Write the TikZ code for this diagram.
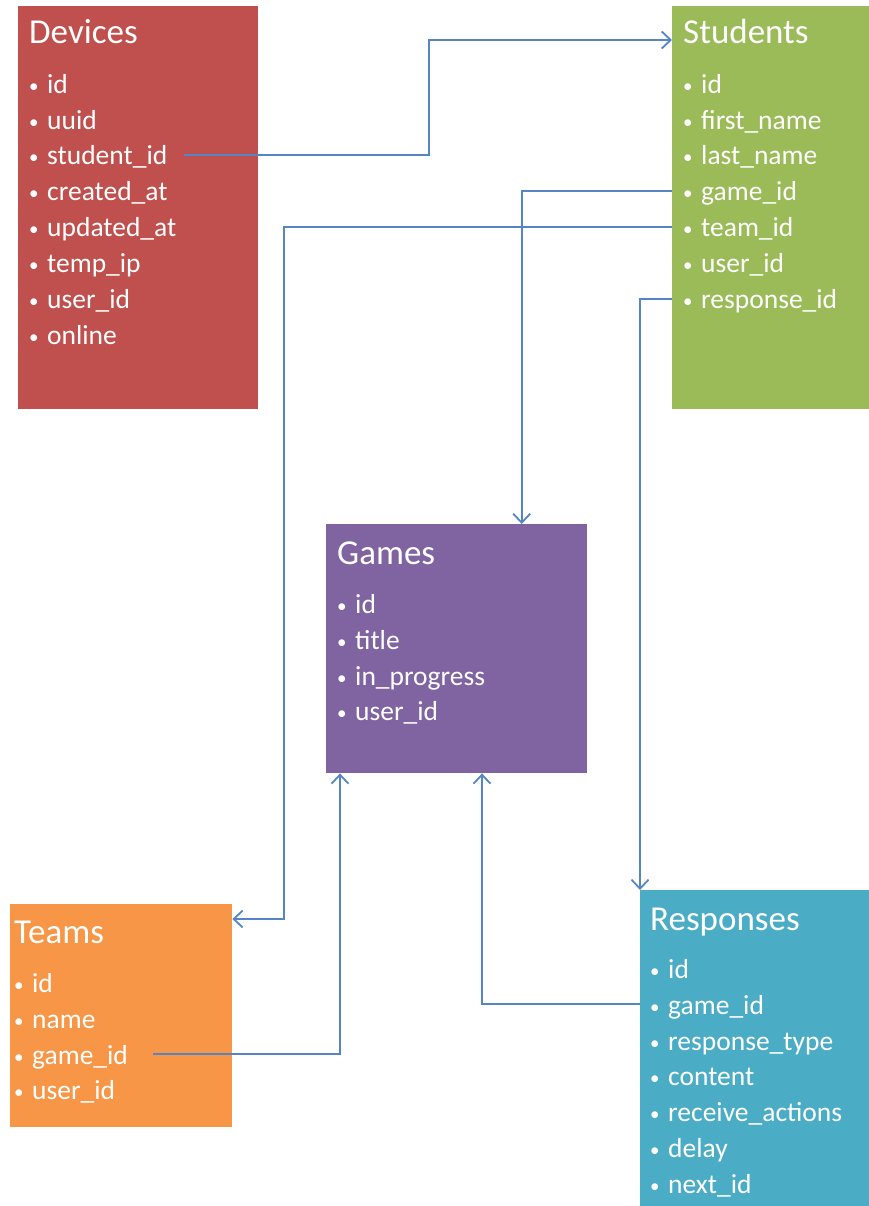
\documentclass[tikz,border=0pt]{standalone}
\usepackage{fontspec}
\setmainfont{Carlito}
\usetikzlibrary{positioning, arrows.meta}

\definecolor{devred}{HTML}{C0504D}
\definecolor{stugreen}{HTML}{9BBB59}
\definecolor{gampurple}{HTML}{8064A2}
\definecolor{teaorange}{HTML}{F79646}
\definecolor{resblue}{HTML}{4BACC6}
\definecolor{linkblue}{HTML}{5585C4}

\newcommand{\bul}{\makebox[18pt][l]{\fontsize{19}{19}\selectfont\raisebox{1pt}{\textbullet}}}

\begin{document}
\begin{tikzpicture}[x=1pt, y=-1pt, node distance=15.5pt,
    tbl/.style={fill=#1, anchor=north west, inner sep=0pt},
    tabtitle/.style={inner sep=0pt, text=white, font=\fontsize{35}{35}\selectfont},
    field/.style={inner sep=0pt, text=white, text height=20pt, text depth=0pt, font=\fontsize{27.5}{27.5}\selectfont},
    link/.style={draw=linkblue, line width=1.8pt, -{Straight Barb[length=9pt,width=17pt]}}]
    \useasboundingbox (0,0) rectangle (869,1206);

    % tables
    \node[tbl=devred,    minimum width=240pt, minimum height=403pt] (dev) at (18,6)    {};
    \node[tbl=stugreen,  minimum width=197pt, minimum height=403pt] (stu) at (672,6)   {};
    \node[tbl=gampurple, minimum width=261pt, minimum height=249pt] (gam) at (326,524)  {};
    \node[tbl=teaorange, minimum width=222pt, minimum height=223pt] (tea) at (10,904)  {};
    \node[tbl=resblue,   minimum width=229pt, minimum height=316pt] (res) at (640,890) {};

    % Devices
    \node[tabtitle, below right=38pt and 11pt of dev.north west, anchor=base west] (dev title) {Devices};
    \node[field, below=29pt of dev title.base west, anchor=north west] (dev 1) {\bul id};
    \node[field, below=of dev 1.south west, anchor=north west] (dev 2) {\bul uuid};
    \node[field, below=of dev 2.south west, anchor=north west] (dev 3) {\bul student\_id};
    \node[field, below=of dev 3.south west, anchor=north west] (dev 4) {\bul created\_at};
    \node[field, below=of dev 4.south west, anchor=north west] (dev 5) {\bul updated\_at};
    \node[field, below=of dev 5.south west, anchor=north west] (dev 6) {\bul temp\_ip};
    \node[field, below=of dev 6.south west, anchor=north west] (dev 7) {\bul user\_id};
    \node[field, below=of dev 7.south west, anchor=north west] (dev 8) {\bul online};

    % Students
    \node[tabtitle, below right=38pt and 11pt of stu.north west, anchor=base west] (stu title) {Students};
    \node[field, below=29pt of stu title.base west, anchor=north west] (stu 1) {\bul id};
    \node[field, below=of stu 1.south west, anchor=north west] (stu 2) {\bul first\_name};
    \node[field, below=of stu 2.south west, anchor=north west] (stu 3) {\bul last\_name};
    \node[field, below=of stu 3.south west, anchor=north west] (stu 4) {\bul game\_id};
    \node[field, below=of stu 4.south west, anchor=north west] (stu 5) {\bul team\_id};
    \node[field, below=of stu 5.south west, anchor=north west] (stu 6) {\bul user\_id};
    \node[field, below=of stu 6.south west, anchor=north west] (stu 7) {\bul response\_id};

    % Games
    \node[tabtitle, below right=40pt and 11pt of gam.north west, anchor=base west] (gam title) {Games};
    \node[field, below=29pt of gam title.base west, anchor=north west] (gam 1) {\bul id};
    \node[field, below=of gam 1.south west, anchor=north west] (gam 2) {\bul title};
    \node[field, below=of gam 2.south west, anchor=north west] (gam 3) {\bul in\_progress};
    \node[field, below=of gam 3.south west, anchor=north west] (gam 4) {\bul user\_id};

    % Teams
    \node[tabtitle, below right=39pt and 4pt of tea.north west, anchor=base west] (tea title) {Teams};
    \node[field, below=29pt of tea title.base west, anchor=north west] (tea 1) {\bul id};
    \node[field, below=of tea 1.south west, anchor=north west] (tea 2) {\bul name};
    \node[field, below=of tea 2.south west, anchor=north west] (tea 3) {\bul game\_id};
    \node[field, below=of tea 3.south west, anchor=north west] (tea 4) {\bul user\_id};

    % Responses
    \node[tabtitle, below right=40pt and 10pt of res.north west, anchor=base west] (res title) {Responses};
    \node[field, below=28pt of res title.base west, anchor=north west] (res 1) {\bul id};
    \node[field, below=of res 1.south west, anchor=north west] (res 2) {\bul game\_id};
    \node[field, below=of res 2.south west, anchor=north west] (res 3) {\bul response\_type};
    \node[field, below=of res 3.south west, anchor=north west] (res 4) {\bul content};
    \node[field, below=of res 4.south west, anchor=north west] (res 5) {\bul receive\_actions};
    \node[field, below=of res 5.south west, anchor=north west] (res 6) {\bul delay};
    \node[field, below=of res 6.south west, anchor=north west] (res 7) {\bul next\_id};

    % links
    \coordinate (bend 1) at (429,0);
    \coordinate (bend 2) at (284,0);
    \coordinate (tea in) at ([yshift=-15pt]tea.north east);

    \draw[link] ([xshift=16pt]dev 3.east) -- (dev 3.east -| bend 1) |- ([yshift=-34pt]stu.north west);
    \draw[link] (stu.west |- stu 4) -| ([xshift=65pt]gam.north);
    \draw[link] (stu.west |- stu 5) -| (bend 2 |- tea in) -- (tea in);
    \draw[link] (stu.west |- stu 7) -| (res.north west);
    \draw[link] ([xshift=25pt]tea 3.east) -| ([xshift=14pt]gam.south west);
    \draw[link] (res.west |- res 2) -| ([xshift=156pt]gam.south west);
\end{tikzpicture}
\end{document}
